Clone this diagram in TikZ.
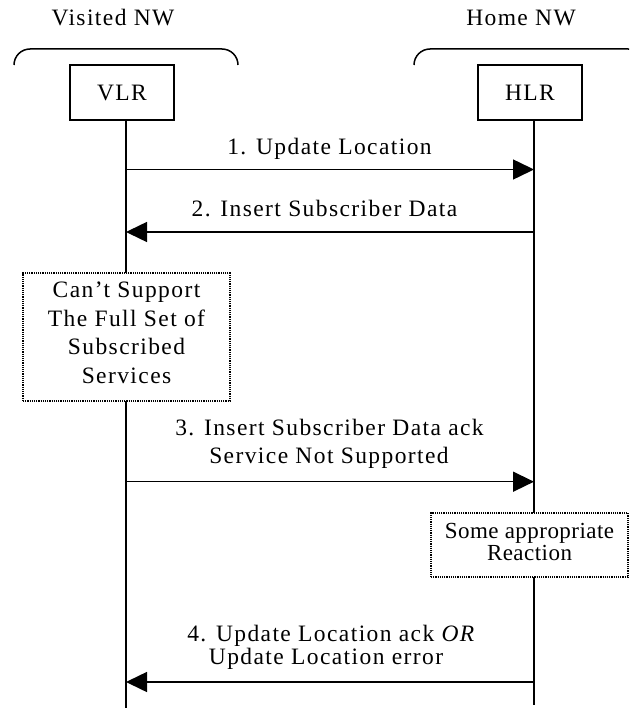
\documentclass[tikz,border=0pt]{standalone}
\usepackage{fontspec}
\setmainfont{Liberation Serif}[LetterSpace=6]
\usetikzlibrary{arrows.meta}
\begin{document}
\begin{tikzpicture}[x=1pt,y=-1pt,
  every node/.style={font=\fontsize{23.5}{28}\selectfont, inner sep=0pt},
  entity/.style={draw, line width=1.4pt, minimum width=104pt, minimum height=55pt},
  life/.style={line width=1.5pt},
  msg/.style={line width=1.5pt, -{Triangle[length=21pt,width=20pt]}},
  note/.style={draw, densely dotted, line width=1.2pt, fill=white, align=center},
  brace/.style={line width=1.5pt, rounded corners=16pt},
  lbl/.style={anchor=base}]
\useasboundingbox (0,0) rectangle (629,711);

% network labels and braces
\node[lbl] (vnw) at (113,26) {Visited NW};
\node[lbl] (hnw) at (521,26) {Home NW};
\draw[brace] (14,65) -- (14,49) -- (238,49) -- (238,65);
\begin{scope}
  \clip (0,0) rectangle (629,711);
  \draw[brace] (414,65) -- (414,49) -- (644,49) -- (644,65);
\end{scope}

% entities
\node[entity] (vlr) at (122,92.5) {VLR};
\node[entity] (hlr) at (530,92.5) {HLR};

% lifelines
\coordinate (vend) at (126,708);
\coordinate (hend) at (534,705);
\draw[life] (vlr.south -| vend) -- (vend);
\draw[life] (hlr.south -| hend) -- (hend);

% message 1
\coordinate (v1) at (126,169.5);
\coordinate (h1) at (534,169.5);
\draw[msg] (v1) -- (h1);
\node[lbl] (l1) at (329.5,155) {1. Update Location};

% message 2
\coordinate (v2) at (126,232);
\coordinate (h2) at (534,232);
\draw[msg] (h2) -- (v2);
\node[lbl] (l2) at (324.5,217) {2. Insert Subscriber Data};

% note VLR
\node[note, minimum width=207pt, minimum height=128pt,
      font=\fontsize{23.5}{28.7}\selectfont] (cant) at (126.5,337)
  {Can’t Support\\The Full Set of\\Subscribed\\Services\strut};

% message 3
\coordinate (v3) at (126,481.7);
\coordinate (h3) at (534,481.7);
\draw[msg] (v3) -- (h3);
\node[lbl] (l3a) at (329.5,435) {3. Insert Subscriber Data ack};
\node[lbl] (l3b) at (329,463) {Service Not Supported};

% note HLR
\node[note, minimum width=197pt, minimum height=64pt,
      font=\fontsize{23}{22}\selectfont\addfontfeature{LetterSpace=2}] (react) at (529.5,545)
  {Some appropriate\\Reaction\strut};

% message 4
\coordinate (v4) at (126,682);
\coordinate (h4) at (534,682);
\draw[msg] (h4) -- (v4);
\node[lbl] (l4a) at (331.5,641.7) {4. Update Location ack \textit{OR}};
\node[lbl] (l4b) at (326,664.3) {Update Location error};
\end{tikzpicture}
\end{document}
